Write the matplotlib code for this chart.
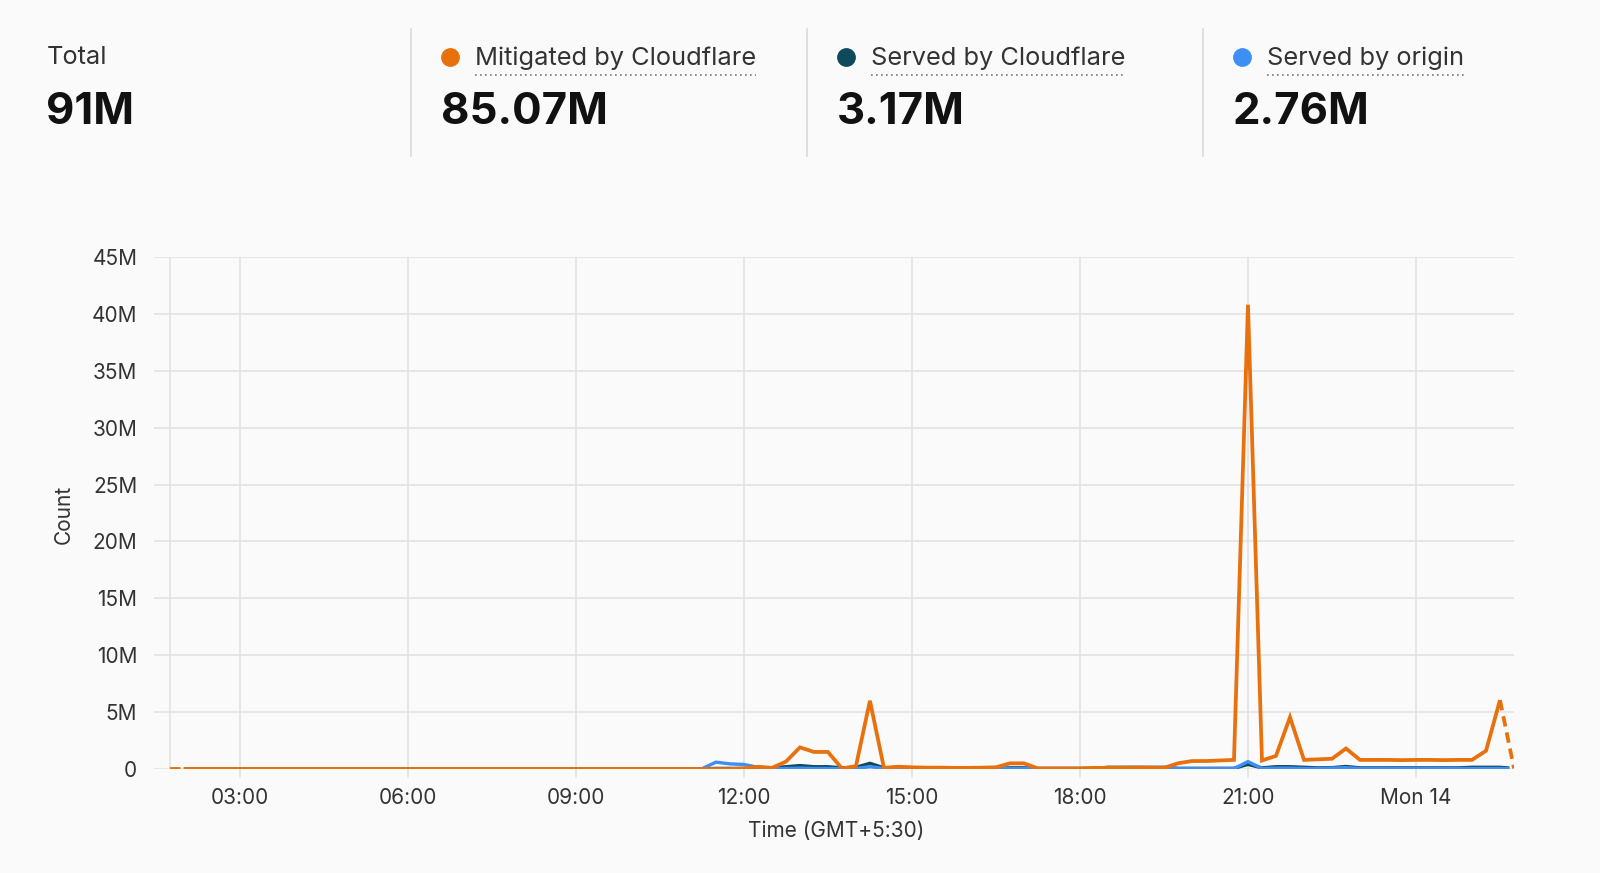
import matplotlib
matplotlib.use("Agg")
import matplotlib.pyplot as plt
import pandas as pd
from matplotlib.lines import Line2D

plt.rcParams['font.family'] = ['Inter', 'DejaVu Sans']

# ---------------- data (millions of requests, 15-min buckets) ----------------
start_time = '2025-04-13 01:45'
n_points = 97

mitigated = [
    0, 0, 0, 0, 0, 0, 0, 0, 0, 0,
    0, 0, 0, 0, 0, 0, 0, 0, 0, 0,
    0, 0, 0, 0, 0, 0, 0, 0, 0, 0,
    0, 0, 0, 0, 0, 0, 0, 0, 0, 0,
    0, 0.05, 0.2, 0.1, 0.65, 1.9, 1.5, 1.5, 0.05, 0.25,
    6.0, 0.1, 0.2, 0.15, 0.12, 0.12, 0.1, 0.1, 0.12, 0.15,
    0.5, 0.5, 0.05, 0.05, 0.05, 0.05, 0.1, 0.1, 0.1, 0.12,
    0.1, 0.1, 0.5, 0.7, 0.7, 0.75, 0.8, 40.8, 0.75, 1.15,
    4.55, 0.8, 0.85, 0.9, 1.8, 0.8, 0.8, 0.8, 0.78, 0.8,
    0.8, 0.78, 0.8, 0.8, 1.6, 6.06, 0.05,
]
served_cf = [
    0, 0, 0, 0, 0, 0, 0, 0, 0, 0,
    0, 0, 0, 0, 0, 0, 0, 0, 0, 0,
    0, 0, 0, 0, 0, 0, 0, 0, 0, 0,
    0, 0, 0, 0, 0, 0, 0, 0, 0.01, 0.05,
    0.05, 0.05, 0.05, 0.1, 0.2, 0.3, 0.2, 0.2, 0.1, 0.15,
    0.5, 0.1, 0.05, 0.05, 0.05, 0.05, 0.05, 0.05, 0.05, 0.05,
    0.1, 0.1, 0.05, 0.05, 0.05, 0.05, 0.05, 0.15, 0.15, 0.15,
    0.15, 0.15, 0.06, 0.06, 0.06, 0.06, 0.06, 0.4, 0.1, 0.2,
    0.2, 0.15, 0.1, 0.12, 0.22, 0.1, 0.1, 0.1, 0.1, 0.1,
    0.1, 0.1, 0.1, 0.15, 0.15, 0.15, 0.05,
]
served_origin = [
    0, 0, 0, 0, 0, 0, 0, 0, 0, 0,
    0, 0, 0, 0, 0, 0, 0, 0, 0, 0,
    0, 0, 0, 0, 0, 0, 0, 0, 0, 0,
    0, 0, 0, 0, 0, 0, 0, 0, 0.02, 0.6,
    0.45, 0.4, 0.15, 0.05, 0.05, 0.08, 0.05, 0.05, 0.03, 0.05,
    0.2, 0.05, 0.03, 0.03, 0.03, 0.03, 0.03, 0.03, 0.03, 0.03,
    0.03, 0.03, 0.03, 0.03, 0.03, 0.03, 0.03, 0.03, 0.03, 0.03,
    0.03, 0.03, 0.03, 0.03, 0.03, 0.03, 0.03, 0.65, 0.05, 0.08,
    0.08, 0.05, 0.05, 0.08, 0.12, 0.05, 0.05, 0.05, 0.05, 0.05,
    0.05, 0.05, 0.05, 0.05, 0.05, 0.05, 0.03,
]

series_names = ['Mitigated by Cloudflare', 'Served by Cloudflare', 'Served by origin']
series_totals = ['85.07M', '3.17M', '2.76M']
total_label = 'Total'
total_value = '91M'

tick_times = ['2025-04-13 03:00', '2025-04-13 06:00', '2025-04-13 09:00',
              '2025-04-13 12:00', '2025-04-13 15:00', '2025-04-13 18:00',
              '2025-04-13 21:00', '2025-04-14 00:00']
tick_labels = ['03:00', '06:00', '09:00', '12:00', '15:00', '18:00', '21:00', 'Mon 14']
y_ticks = [0, 5, 10, 15, 20, 25, 30, 35, 40, 45]
y_labels = ['0', '5M', '10M', '15M', '20M', '25M', '30M', '35M', '40M', '45M']

# ---------------- style ----------------
BG = '#fafafa'
GRID = '#e2e2e2'
C_MIT = '#e8700d'
C_CF = '#0f4a5a'
C_ORI = '#3d8ef5'
TXT = '#333333'

W, H = 1600, 873
def fx(x):
    return x / W
def fy(y):
    return 1 - y / H

fig = plt.figure(figsize=(16, 8.73), dpi=100, facecolor=BG)

times = pd.date_range(start_time, periods=n_points, freq='15min')

ax = fig.add_axes([fx(154), fy(769), (1514 - 154) / W, (769 - 257) / H])
ax.set_facecolor(BG)

series = [(served_cf, C_CF), (served_origin, C_ORI), (mitigated, C_MIT)]
for vals, col in series:
    lw = 2.7 if col == C_MIT else 2.4
    ax.plot(times[1:-1], vals[1:-1], color=col, lw=lw, solid_joinstyle='miter',
            solid_capstyle='butt', zorder=3)
    ax.plot(times[:2], vals[:2], color=col, lw=lw, dashes=(2.8, 1.6), zorder=3)
    ax.plot(times[-2:], vals[-2:], color=col, lw=lw, dashes=(2.8, 1.6), zorder=3)

ax.set_xlim(pd.Timestamp('2025-04-13 01:28'), times[-1])
ax.set_ylim(0, 45)
ax.set_xticks(pd.to_datetime(tick_times))
ax.set_xticklabels(tick_labels)
ax.set_yticks(y_ticks)
ax.set_yticklabels(y_labels)
ax.grid(True, color=GRID, lw=1.2, zorder=0)
ax.axvline(times[0], color=GRID, lw=1.2, zorder=0)
for s in ax.spines.values():
    s.set_visible(False)
ax.tick_params(axis='y', length=0, pad=12, labelsize=15, labelcolor=TXT)
ax.tick_params(axis='x', length=6.5, width=1.2, color=GRID, pad=7,
               labelsize=15, labelcolor=TXT)

fig.text(fx(64), fy(514), 'Count', rotation=90, ha='center', va='center',
         fontsize=15, color=TXT)
fig.text(fx(836), fy(831), 'Time (GMT+5:30)', ha='center', va='center',
         fontsize=15, color=TXT)

# ---------------- header ----------------
LAB_FS = 18.3
VAL_FS = 31.5
fig.text(fx(47), fy(58), total_label, ha='left', va='center', fontsize=LAB_FS, color=TXT)
fig.text(fx(46), fy(113), total_value, ha='left', va='center', fontsize=VAL_FS,
         fontweight='bold', color='#111111')

for sx in [411, 807, 1203]:
    fig.add_artist(Line2D([fx(sx), fx(sx)], [fy(29), fy(156)], color='#dcdcdc',
                          lw=1.3, transform=fig.transFigure))

dot_x = [450, 846, 1242]
lab_x = [475, 871, 1267]
val_x = [441, 837, 1233]
cols = [C_MIT, C_CF, C_ORI]
label_texts = []
for name, tot, dx, lx, vx, col in zip(series_names, series_totals, dot_x, lab_x, val_x, cols):
    fig.add_artist(Line2D([fx(dx)], [fy(57)], marker='o', markersize=12.5,
                          markerfacecolor=col, markeredgecolor=col, lw=0,
                          transform=fig.transFigure))
    t = fig.text(fx(lx), fy(58), name, ha='left', va='center', fontsize=LAB_FS, color=TXT)
    label_texts.append(t)
    fig.text(fx(vx), fy(113), tot, ha='left', va='center', fontsize=VAL_FS,
             fontweight='bold', color='#111111')

fig.canvas.draw()
renderer = fig.canvas.get_renderer()
for t in label_texts:
    bb = t.get_window_extent(renderer)
    x0, x1 = bb.x0 / W, bb.x1 / W
    fig.add_artist(Line2D([x0, x1], [fy(75), fy(75)], color='#777777', lw=1.2,
                          linestyle=(0, (1, 2)), transform=fig.transFigure))

fig.savefig('out.png', dpi=100, facecolor=BG)
